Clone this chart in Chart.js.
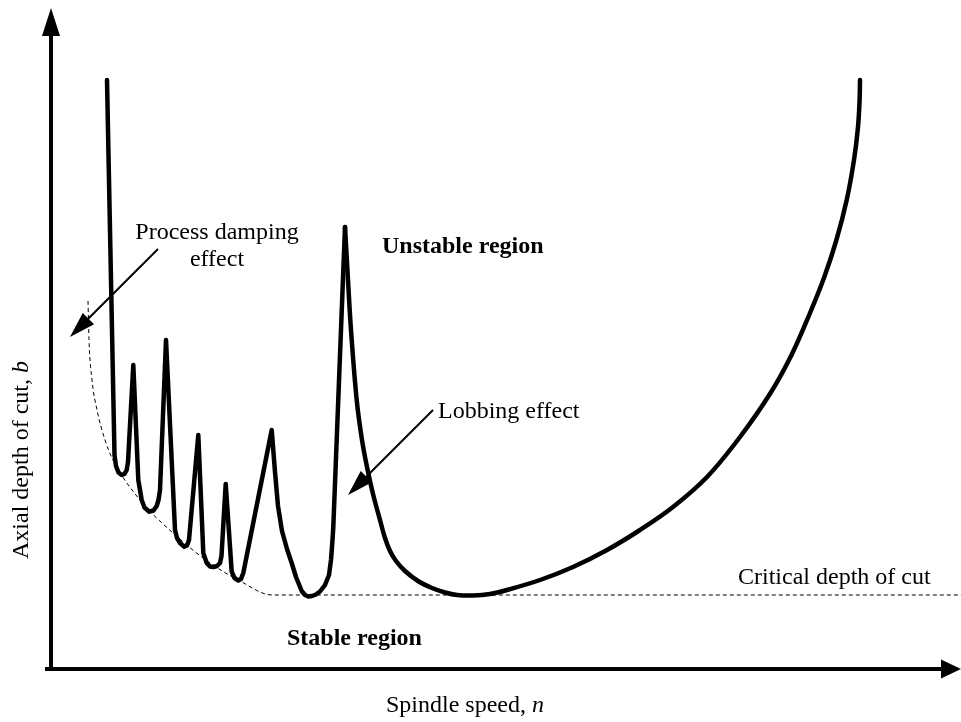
<!DOCTYPE html>
<html>
<head>
<meta charset="utf-8">
<script src="https://cdn.jsdelivr.net/npm/chart.js@4.4.1/dist/chart.umd.min.js"></script>
<style>
  html, body { margin: 0; padding: 0; background: #fff; }
  #lobeChart { display: block; }
</style>
</head>
<body>
<canvas id="lobeChart" width="961" height="722"></canvas>
<script>
// Stability lobe diagram (arbitrary units)
// =====================================================

// Small lobes, left part of the stability limit (sharp peaks)
const lobeSpeed = [56, 63.5, 65, 67.5, 70.7, 73.5, 75.7, 77, 82.3,
  87.3, 90.7, 93.5, 98.3, 102.5, 105.7, 107.5, 109, 115,
  124, 126, 129, 133.3, 136, 138, 147.3,
  152.3, 155.7, 159, 162.3, 166, 169, 170.5, 174.7,
  180.7, 183.5, 187.3, 190, 192.3, 220.7,
  224, 227, 231, 236, 241, 245, 250.7, 254, 257.3, 261, 265, 269, 274, 278, 280, 281.5, 282.3, 294];
const lobeDepth = [589, 214, 203, 196.5, 194, 195, 199, 207, 304,
  189, 169, 161.5, 157.3, 158.5, 163, 169, 179, 329,
  139, 131, 126, 122.3, 123.5, 129, 234,
  116, 106, 102.5, 102, 103, 106, 113, 185,
  97.3, 91, 88.5, 90, 96, 239,
  197, 163, 138, 120, 105, 92, 78, 74, 72.5, 73, 74.5, 77.5, 84, 94, 109, 129, 142, 442];

// Main lobe, right of the tall peak (smooth)
const mainLobeSpeed = [294, 297, 300, 305.7, 311, 316, 322, 329, 334, 339, 345, 354, 367, 381, 394,
  406, 422, 439, 456, 489, 522, 556, 589, 622, 656, 689, 719.5, 740.5, 759, 773.3, 785.4, 795.7,
  803, 807, 808.6, 809];
const mainLobeDepth = [442, 389, 339, 269, 229, 202, 175, 149, 131, 118, 108, 98, 88, 81, 76.5,
  74, 73.5, 75, 79, 89, 102, 119, 139, 162, 192, 232, 276, 314, 356, 392, 429, 469,
  509, 542, 569, 589];

// Process damping envelope (thin dashed)
const envelopeSpeed = [37, 38, 41, 46, 54, 62, 89, 122, 159, 189, 221];
const envelopeDepth = [368, 329, 289, 259, 229, 209, 169, 136, 106, 88, 74];

// Critical depth of cut
const criticalDepth = 74;

// Axis ranges
const speedMax = 910;
const depthMax = 661;

// Annotation arrows [fromSpeed, fromDepth, toSpeed, toDepth]
const processArrow = [107, 420, 19, 332];
const lobbingArrow = [382, 259, 297, 174];

const SERIF = "'Liberation Serif', 'Times New Roman', serif";

// Build point lists
const toPoints = (xs, ys) => xs.map((s, i) => ({ x: s, y: ys[i] }));
const lobePoints = toPoints(lobeSpeed, lobeDepth);
const mainLobePoints = toPoints(mainLobeSpeed, mainLobeDepth);
const envelopePoints = toPoints(envelopeSpeed, envelopeDepth);
envelopePoints.push({ x: speedMax, y: criticalDepth });

// Filled triangle at the tip of a line
function arrowHead(ctx, fx, fy, tx, ty, len, halfW) {
  const a = Math.atan2(ty - fy, tx - fx);
  const c = Math.cos(a), s = Math.sin(a);
  ctx.beginPath();
  ctx.moveTo(tx, ty);
  ctx.lineTo(tx - len * c + halfW * s, ty - len * s - halfW * c);
  ctx.lineTo(tx - len * c - halfW * s, ty - len * s + halfW * c);
  ctx.closePath();
  ctx.fill();
}

function arrow(ctx, fx, fy, tx, ty, width, len, halfW) {
  const a = Math.atan2(ty - fy, tx - fx);
  ctx.lineWidth = width;
  ctx.beginPath();
  ctx.moveTo(fx, fy);
  ctx.lineTo(tx - (len - 2) * Math.cos(a), ty - (len - 2) * Math.sin(a));
  ctx.stroke();
  arrowHead(ctx, fx, fy, tx, ty, len, halfW);
}

// Text made of plain / italic pieces, left aligned at x
function fontFor(p) {
  return `${p.italic ? 'italic ' : ''}${p.bold ? 'bold ' : ''}24px ${SERIF}`;
}

function mixedText(ctx, parts, x, y) {
  let cx = x;
  parts.forEach(p => {
    ctx.font = fontFor(p);
    ctx.fillText(p.text, cx, y);
    cx += ctx.measureText(p.text).width;
  });
}

function mixedWidth(ctx, parts) {
  return parts.reduce((w, p) => {
    ctx.font = fontFor(p);
    return w + ctx.measureText(p.text).width;
  }, 0);
}

const decorPlugin = {
  id: 'decor',
  afterDraw(chart) {
    const { ctx, chartArea, scales } = chart;
    const px = v => scales.x.getPixelForValue(v);
    const py = v => scales.y.getPixelForValue(v);

    ctx.save();
    ctx.fillStyle = '#000';
    ctx.strokeStyle = '#000';
    ctx.lineCap = 'butt';

    // Axes with arrow heads
    arrow(ctx, chartArea.left, chartArea.bottom + 2, chartArea.left, chartArea.top, 4, 28, 9);
    arrow(ctx, chartArea.left - 6, chartArea.bottom, chartArea.right, chartArea.bottom, 4, 20, 9.5);

    // Annotation arrows
    [processArrow, lobbingArrow].forEach(a => {
      arrow(ctx, px(a[0]), py(a[1]), px(a[2]), py(a[3]), 2, 26, 8);
    });

    // Labels
    ctx.textBaseline = 'alphabetic';
    ctx.textAlign = 'center';
    ctx.font = `24px ${SERIF}`;
    ctx.fillText('Process damping', px(166), py(430));
    ctx.fillText('effect', px(166), py(403));

    ctx.textAlign = 'left';
    ctx.fillText('Lobbing effect', px(387), py(251));
    ctx.fillText('Critical depth of cut', px(687), py(85));

    ctx.font = `bold 24px ${SERIF}`;
    ctx.fillText('Unstable region', px(331), py(416));
    ctx.fillText('Stable region', px(236), py(24));

    // Axis titles
    const xTitle = [{ text: 'Spindle speed, ' }, { text: 'n', italic: true }];
    mixedText(ctx, xTitle, 465 - mixedWidth(ctx, xTitle) / 2, chartArea.bottom + 43);

    const yTitle = [{ text: 'Axial depth of cut, ' }, { text: 'b', italic: true }];
    ctx.translate(28, 460);
    ctx.rotate(-Math.PI / 2);
    mixedText(ctx, yTitle, -mixedWidth(ctx, yTitle) / 2, 0);

    ctx.restore();
  }
};

const thickLine = {
  showLine: true,
  borderColor: '#000',
  borderWidth: 4.5,
  borderJoinStyle: 'round',
  borderCapStyle: 'round',
  pointRadius: 0
};

new Chart(document.getElementById('lobeChart'), {
  type: 'scatter',
  data: {
    datasets: [
      { ...thickLine, label: 'Stability limit (lobes)', data: lobePoints, tension: 0 },
      { ...thickLine, label: 'Stability limit (main lobe)', data: mainLobePoints, tension: 0.35 },
      {
        label: 'Process damping envelope',
        data: envelopePoints,
        showLine: true,
        borderColor: '#000',
        borderWidth: 1,
        borderDash: [4, 3],
        cubicInterpolationMode: 'monotone',
        pointRadius: 0
      }
    ]
  },
  options: {
    responsive: false,
    animation: false,
    devicePixelRatio: 1,
    layout: { padding: { left: 51, top: 8, right: 0, bottom: 53 } },
    plugins: {
      legend: { display: false },
      tooltip: { enabled: false }
    },
    scales: {
      x: { type: 'linear', min: 0, max: speedMax, display: false },
      y: { type: 'linear', min: 0, max: depthMax, display: false }
    }
  },
  plugins: [decorPlugin]
});
</script>
</body>
</html>
